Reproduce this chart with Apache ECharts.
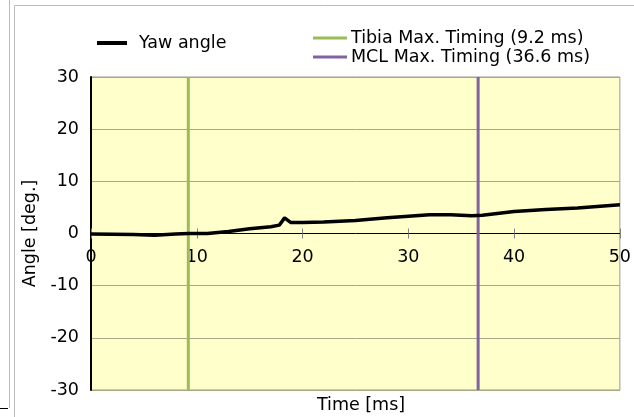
<!DOCTYPE html>
<html>
<head>
<meta charset="utf-8">
<script src="https://cdn.jsdelivr.net/npm/echarts@6/dist/echarts.min.js"></script>
<style>html,body{margin:0;padding:0;background:#fff;}#c{width:634px;height:417px;}</style>
</head>
<body>
<div id="c"></div>
<script>
const timeMs = [0, 2, 4, 6, 8, 9.2, 11, 13, 15, 17, 17.8, 18.3, 18.9, 20, 22, 25, 28, 30, 32, 34, 36, 37, 40, 43, 46, 50];
const yawDeg = [-0.1, -0.15, -0.2, -0.35, -0.1, 0, 0, 0.4, 0.9, 1.3, 1.6, 3.0, 2.1, 2.1, 2.2, 2.5, 3.0, 3.3, 3.6, 3.6, 3.4, 3.5, 4.2, 4.6, 4.9, 5.5];
const tibiaTiming = 9.2;
const mclTiming = 36.6;
const yRange = [-30, 30];
const xRange = [0, 50];
const seriesNames = ['Yaw angle', 'Tibia Max. Timing (9.2 ms)', 'MCL Max. Timing (36.6 ms)'];

const FONT = 'DejaVu Sans';
const FS = 17.5;
const GRID = {left: 91, right: 4, top: 77, bottom: 27};
const chart = echarts.init(document.getElementById('c'), null, {renderer: 'canvas'});
const yawData = timeMs.map((t, i) => [t, yawDeg[i]]);
const plotH = 417 - GRID.top - GRID.bottom;
const zeroOffset = -plotH * (0 - yRange[0]) / (yRange[1] - yRange[0]);

chart.setOption({
  animation: false,
  backgroundColor: '#ffffff',
  textStyle: {fontFamily: FONT},
  grid: Object.assign({show: true, backgroundColor: '#FFFFCC', borderColor: '#999999', borderWidth: 1}, GRID),
  legend: [
    {data: [{name: seriesNames[0], icon: 'rect'}], left: 97, top: 34, itemWidth: 30, itemHeight: 4, itemGap: 0,
     textStyle: {fontFamily: FONT, fontSize: FS, color: '#000', padding: [0, 0, 0, 7]}, padding: 0, selectedMode: false},
    {data: [{name: seriesNames[1], icon: 'rect'}, {name: seriesNames[2], icon: 'rect'}], orient: 'vertical', left: 313, top: 29,
     itemWidth: 34, itemHeight: 3, itemGap: 1,
     textStyle: {fontFamily: FONT, fontSize: FS, color: '#000', padding: [0, 0, 0, -1]}, padding: 0, selectedMode: false}
  ],
  xAxis: [
    {type: 'value', min: xRange[0], max: xRange[1], interval: 10, position: 'bottom', offset: zeroOffset,
     axisLine: {onZero: false, lineStyle: {color: '#000', width: 1}},
     axisTick: {show: true, inside: false, length: 5, lineStyle: {color: '#808080'}},
     axisLabel: {fontFamily: FONT, fontSize: FS, color: '#000', margin: 15, alignMinLabel: 'center', alignMaxLabel: 'center', hideOverlap: false},
     splitLine: {show: false}},
    {type: 'value', min: xRange[0], max: xRange[1], interval: 10, position: 'bottom', offset: zeroOffset,
     axisLine: {show: false, onZero: false},
     axisTick: {show: true, inside: true, length: 5, lineStyle: {color: '#808080'}},
     axisLabel: {show: false}, splitLine: {show: false}}
  ],
  yAxis: {type: 'value', min: yRange[0], max: yRange[1], interval: 10,
    name: 'Angle [deg.]', nameLocation: 'middle', nameGap: 45,
    nameTextStyle: {fontFamily: FONT, fontSize: FS, color: '#000'},
    axisLine: {show: true, onZero: false, lineStyle: {color: '#000', width: 2}},
    axisTick: {show: false},
    axisLabel: {fontFamily: FONT, fontSize: FS, color: '#000', margin: 12},
    splitLine: {show: true, lineStyle: {color: '#a8a888', width: 1}}},
  graphic: [
    {type: 'text', x: 361, y: 405, style: {text: 'Time [ms]', font: FS + 'px ' + FONT, fill: '#000', align: 'center', verticalAlign: 'middle'}},
    {type: 'rect', shape: {x: 14.5, y: 5.5, width: 640, height: 430}, style: {fill: 'none', stroke: '#bbbbbb', lineWidth: 1}, z: 100},
    {type: 'line', shape: {x1: 9.5, y1: 0, x2: 9.5, y2: 408}, style: {stroke: '#bbbbbb', lineWidth: 1}, z: 100},
    {type: 'line', shape: {x1: 0, y1: 408.5, x2: 8, y2: 408.5}, style: {stroke: '#000', lineWidth: 1}, z: 100}
  ],
  series: [
    {name: seriesNames[0], type: 'line', data: yawData, showSymbol: false, smooth: false, color: '#000',
     lineStyle: {color: '#000', width: 3.5}, z: 5},
    {name: seriesNames[1], type: 'line', data: [[tibiaTiming, yRange[0]], [tibiaTiming, yRange[1]]], showSymbol: false, color: '#9BBB59',
     lineStyle: {color: '#9BBB59', width: 3}, z: 4},
    {name: seriesNames[2], type: 'line', data: [[mclTiming, yRange[0]], [mclTiming, yRange[1]]], showSymbol: false, color: '#8064A2',
     lineStyle: {color: '#8064A2', width: 3}, z: 4}
  ]
});
</script>
</body>
</html>
